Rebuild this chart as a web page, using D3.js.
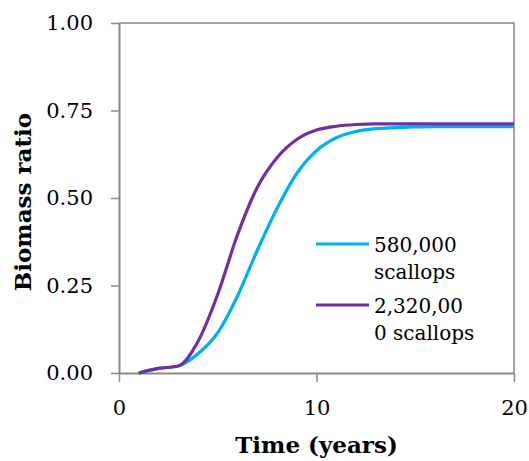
<!DOCTYPE html>
<meta charset="utf-8">
<head>
  <script src="https://d3js.org/d3.v7.min.js"></script>
  <style>
    body { margin: 0; background: #fff; }
    text { font-family: "DejaVu Serif", serif; }
  </style>
</head>
<body>
<div id="my_dataviz"></div>
<script>
// data (years, biomass ratio)
var years = [1, 2, 3, 4, 5, 6, 7, 8, 9, 10, 11, 12, 13, 14, 15, 16, 17, 18, 19, 20];
var low = [0, 0.013, 0.02, 0.055, 0.115, 0.22, 0.35, 0.47, 0.57, 0.635, 0.672, 0.69, 0.698, 0.701, 0.703, 0.704, 0.704, 0.704, 0.704, 0.704];
var high = [0, 0.013, 0.02, 0.09, 0.225, 0.395, 0.53, 0.615, 0.667, 0.694, 0.705, 0.71, 0.712, 0.712, 0.712, 0.712, 0.712, 0.712, 0.712, 0.712];
var seriesNames = [["580,000", "scallops"], ["2,320,00", "0 scallops"]];
var colors = ["#00b0f0", "#7030a0"];
var xTicks = [0, 10, 20];
var yTicks = [0, 0.25, 0.5, 0.75, 1];

var margin = {top: 23, right: 15, bottom: 88, left: 119},
    width = 529 - margin.left - margin.right,
    height = 461 - margin.top - margin.bottom;

var svg = d3.select("#my_dataviz")
  .append("svg")
    .attr("width", 529)
    .attr("height", 461)
  .append("g")
    .attr("transform", "translate(" + margin.left + "," + margin.top + ")");

var x = d3.scaleLinear().domain([0, 20]).range([0, width]);
var y = d3.scaleLinear().domain([0, 1]).range([height, 0]);

// plot frame (top + right)
svg.append("path")
  .attr("d", "M0,0H" + width + "V" + height)
  .attr("fill", "none")
  .attr("stroke", "#898989")
  .attr("stroke-width", 1.5);

var yAxis = svg.append("g")
  .call(d3.axisLeft(y).tickValues(yTicks).tickFormat(d3.format(".2f"))
    .tickSize(8).tickSizeOuter(0).tickPadding(18));

var xAxis = svg.append("g")
  .attr("transform", "translate(0," + height + ")")
  .call(d3.axisBottom(x).tickValues(xTicks).tickSize(9).tickSizeOuter(0).tickPadding(18));

[xAxis, yAxis].forEach(function(a) {
  a.select(".domain").attr("stroke", "#898989").attr("stroke-width", 2);
  a.selectAll(".tick line").attr("stroke", "#898989").attr("stroke-width", 1.5);
  a.selectAll(".tick text")
    .attr("fill", "#000")
    .style("font-family", "DejaVu Serif")
    .style("font-size", "21px");
});
// left tick of 0.00 and 1.00 goes across the axis line, like the picture
yAxis.selectAll(".tick line").attr("x2", -8);

// lines
var line = d3.line()
  .x(function(d) { return x(d[0]); })
  .y(function(d) { return y(d[1]); })
  .curve(d3.curveMonotoneX);

[low, high].forEach(function(vals, i) {
  svg.append("path")
    .datum(years.map(function(t, j) { return [t, vals[j]]; }))
    .attr("fill", "none")
    .attr("stroke", colors[i])
    .attr("stroke-width", 3.2)
    .attr("stroke-linejoin", "round")
    .attr("d", line);
});

// legend
var legend = svg.append("g").attr("transform", "translate(197,221)");
seriesNames.forEach(function(n, i) {
  var g = legend.append("g").attr("transform", "translate(0," + (i * 61) + ")");
  g.append("line")
    .attr("x1", 0).attr("x2", 53)
    .attr("stroke", colors[i])
    .attr("stroke-width", 3.2);
  g.append("text").attr("x", 58).attr("y", 8).style("font-size", "20px").text(n[0]);
  g.append("text").attr("x", 58).attr("y", 35).style("font-size", "20px").text(n[1]);
});

// axis titles
svg.append("text")
  .attr("x", width / 2)
  .attr("y", height + 80)
  .attr("text-anchor", "middle")
  .style("font-weight", "bold")
  .style("font-size", "23px")
  .text("Time (years)");

svg.append("text")
  .attr("transform", "translate(" + (31 - margin.left) + "," + (202 - margin.top) + ")rotate(-90)")
  .attr("text-anchor", "middle")
  .style("font-weight", "bold")
  .style("font-size", "23px")
  .text("Biomass ratio");
</script>
</body>
